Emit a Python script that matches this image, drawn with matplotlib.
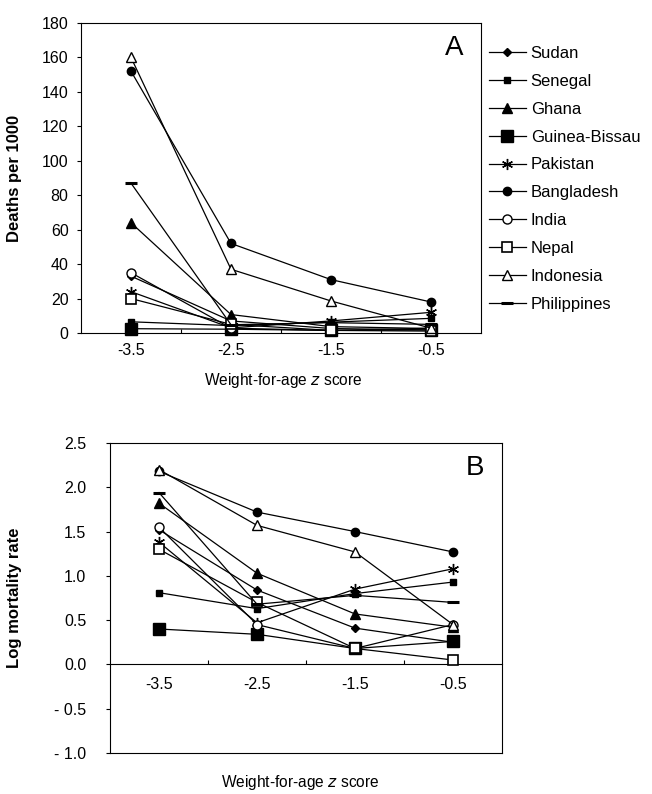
import matplotlib
matplotlib.use("Agg")
import matplotlib.pyplot as plt

plt.rcParams['font.family'] = ['Liberation Sans', 'DejaVu Sans']

z_scores = [-3.5, -2.5, -1.5, -0.5]
z_labels = ["-3.5", "-2.5", "-1.5", "-0.5"]
countries = ["Sudan", "Senegal", "Ghana", "Guinea-Bissau", "Pakistan",
             "Bangladesh", "India", "Nepal", "Indonesia", "Philippines"]

# Panel A: deaths per 1000
deaths_sudan = [33, 7, 2.6, 1.8]
deaths_senegal = [6.5, 4.3, 6.3, 8.5]
deaths_ghana = [64, 10.7, 3.7, 2.6]
deaths_guinea_bissau = [2.5, 2.2, 1.5, 1.8]
deaths_pakistan = [24, 3, 7, 12]
deaths_bangladesh = [152, 52, 31, 18]
deaths_india = [35, 2.8, 1.5, 2.8]
deaths_nepal = [20, 5, 1.5, 1.1]
deaths_indonesia = [160, 37, 18.6, 2.8]
deaths_philippines = [87, 4.8, 6, 5]

# Panel B: log mortality rate
log_sudan = [1.52, 0.84, 0.41, 0.25]
log_senegal = [0.81, 0.63, 0.80, 0.93]
log_ghana = [1.82, 1.03, 0.57, 0.42]
log_guinea_bissau = [0.40, 0.34, 0.18, 0.26]
log_pakistan = [1.38, 0.47, 0.85, 1.08]
log_bangladesh = [2.18, 1.72, 1.50, 1.27]
log_india = [1.55, 0.45, 0.18, 0.45]
log_nepal = [1.30, 0.70, 0.18, 0.05]
log_indonesia = [2.20, 1.57, 1.27, 0.45]
log_philippines = [1.94, 0.68, 0.78, 0.70]

a_yticks = [0, 20, 40, 60, 80, 100, 120, 140, 160, 180]
b_yticks = [-1.0, -0.5, 0.0, 0.5, 1.0, 1.5, 2.0, 2.5]
b_yticklabels = ["- 1.0", "- 0.5", "0.0", "0.5", "1.0", "1.5", "2.0", "2.5"]

deaths = [deaths_sudan, deaths_senegal, deaths_ghana, deaths_guinea_bissau,
          deaths_pakistan, deaths_bangladesh, deaths_india, deaths_nepal,
          deaths_indonesia, deaths_philippines]
logs = [log_sudan, log_senegal, log_ghana, log_guinea_bissau, log_pakistan,
        log_bangladesh, log_india, log_nepal, log_indonesia, log_philippines]

styles = [
    dict(marker='D', ms=4.5, mfc='black'),
    dict(marker='s', ms=5, mfc='black'),
    dict(marker='^', ms=6.5, mfc='black'),
    dict(marker='s', ms=9, mfc='black'),
    dict(marker=(6, 2, 0), ms=8, mfc='black', mew=1.0),
    dict(marker='o', ms=6, mfc='black'),
    dict(marker='o', ms=6.5, mfc='white'),
    dict(marker='s', ms=7.5, mfc='white', mew=1.2),
    dict(marker='^', ms=7, mfc='white'),
    dict(marker='_', ms=9, mfc='black', mew=2.2),
]

fig = plt.figure(figsize=(6.52, 7.94), dpi=100)
W, H = 652, 794

def axrect(l, r, t, b):
    return [l / W, 1 - b / H, (r - l) / W, (b - t) / H]

lw = 0.9
tick_fs = 11.5
ylab_fs = 12
xlab_fs = 11.2

# ---------- Panel A ----------
axA = fig.add_axes(axrect(81, 481, 23, 333))
handles = []
for name, vals, st in zip(countries, deaths, styles):
    h, = axA.plot(z_scores, vals, color='black', lw=lw, mec='black', label=name,
                  clip_on=False, zorder=3, **st)
    handles.append(h)
axA.set_xlim(-4, 0)
axA.set_ylim(0, 180)
axA.set_yticks(a_yticks)
axA.set_xticks(z_scores)
axA.set_xticklabels(z_labels)
axA.set_xticks([-3, -2, -1], minor=True)
axA.tick_params(axis='x', which='major', length=0, pad=7, labelsize=tick_fs)
axA.tick_params(axis='x', which='minor', length=3, direction='in', width=0.8)
axA.tick_params(axis='y', length=3, direction='out', width=0.8, labelsize=tick_fs, pad=6)
for s in axA.spines.values():
    s.set_linewidth(0.8)
axA.set_ylabel("Deaths per 1000", fontsize=ylab_fs, fontweight='bold')
axA.yaxis.set_label_coords((22 - 81) / 400, 0.5)
axA.text(0.955, 0.96, "A", transform=axA.transAxes, fontsize=20,
         ha='right', va='top')
fig.text(283 / W, 1 - 381 / H, r"Weight-for-age $\it{z}$ score", ha='center', va='center',
         fontsize=xlab_fs)

fig.legend(handles=handles, loc='upper left', bbox_to_anchor=(489 / W, 1 - 46 / H),
           frameon=False, fontsize=12, handlelength=2.2, handletextpad=0.3,
           labelspacing=0.77, borderaxespad=0, borderpad=0)

# ---------- Panel B ----------
axB = fig.add_axes(axrect(110, 502, 443, 753))
for name, vals, st in zip(countries, logs, styles):
    axB.plot(z_scores, vals, color='black', lw=lw, mec='black',
             clip_on=False, zorder=3, **st)
axB.set_xlim(-4, 0)
axB.set_ylim(-1.0, 2.5)
axB.set_yticks(b_yticks)
axB.set_yticklabels(b_yticklabels)
axB.spines['bottom'].set_position(('data', 0))
axB.plot([0, 1], [0, 0], transform=axB.transAxes, color='black', lw=0.8,
         clip_on=False)
axB.set_xticks(z_scores)
axB.set_xticklabels(z_labels)
axB.set_xticks([-3, -2, -1], minor=True)
axB.tick_params(axis='x', which='major', length=0, pad=9, labelsize=tick_fs)
axB.tick_params(axis='x', which='minor', length=3, direction='in', width=0.8)
axB.tick_params(axis='y', length=3, direction='out', width=0.8, labelsize=tick_fs, pad=14)
for s in axB.spines.values():
    s.set_linewidth(0.8)
axB.set_ylabel("Log mortality rate", fontsize=ylab_fs, fontweight='bold')
axB.yaxis.set_label_coords((22 - 110) / 392, 0.5)
axB.text(0.955, 0.96, "B", transform=axB.transAxes, fontsize=20,
         ha='right', va='top')
fig.text(300 / W, 1 - 783 / H, r"Weight-for-age $\it{z}$ score", ha='center', va='center',
         fontsize=xlab_fs)

fig.savefig("out.png", dpi=100)
